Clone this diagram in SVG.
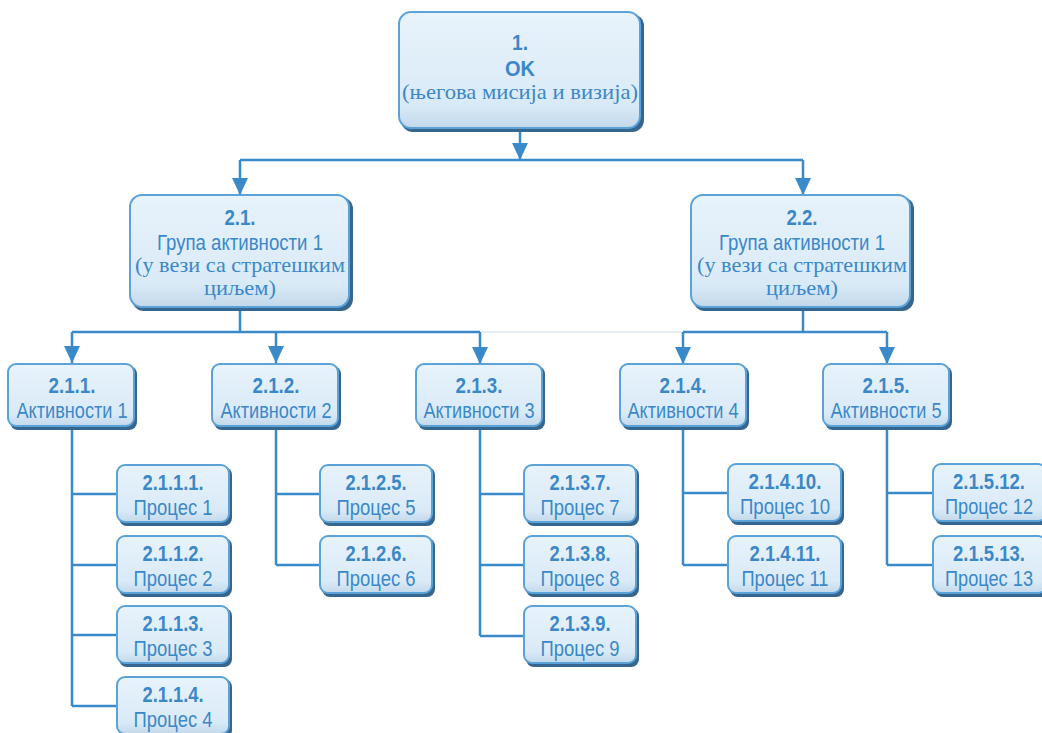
<svg xmlns="http://www.w3.org/2000/svg" width="1042" height="733" viewBox="0 0 1042 733">
<defs>
<linearGradient id="g" x1="0" y1="0" x2="0" y2="1">
<stop offset="0" stop-color="#e8f3fb"/>
<stop offset="0.8" stop-color="#d9eaf7"/>
<stop offset="1" stop-color="#c2d8ea"/>
</linearGradient>
<marker id="ar" markerUnits="userSpaceOnUse" markerWidth="17" markerHeight="16" refX="17" refY="8" orient="auto">
<path d="M0,0 L17,8 L0,16 z" fill="#3a8ac9"/>
</marker>
</defs>
<style>
.sh{fill:#35668f}
.bx{fill:url(#g);stroke:#5ba2d8;stroke-width:2}
text{fill:#3b88c9;text-anchor:middle}
.b{font-family:"Liberation Sans",Arial,sans-serif;font-weight:bold;font-size:22px}
.n{font-family:"Liberation Sans",Arial,sans-serif;font-size:22px}
.s{font-family:"Liberation Serif","DejaVu Serif",serif;font-size:21px}
.c{fill:none;stroke:#3a8ac9;stroke-width:2.5}
.f{fill:none;stroke:#e4edf5;stroke-width:2}
</style>
<rect width="1042" height="733" fill="#ffffff"/>
<g id="connectors">
<path class="c" d="M520,131 V160" marker-end="url(#ar)"/>
<path class="c" d="M240,160 H803"/>
<path class="c" d="M240,160 V195" marker-end="url(#ar)"/>
<path class="c" d="M803,160 V195" marker-end="url(#ar)"/>
<path class="c" d="M240,310 V332 M72,332 H480"/>
<path class="f" d="M481,332 H682"/>
<path class="c" d="M72,332 V363" marker-end="url(#ar)"/>
<path class="c" d="M276,332 V363" marker-end="url(#ar)"/>
<path class="c" d="M480,332 V364" marker-end="url(#ar)"/>
<path class="c" d="M803,310 V332 M683,332 H887"/>
<path class="c" d="M683,332 V364" marker-end="url(#ar)"/>
<path class="c" d="M887,332 V364" marker-end="url(#ar)"/>
<path class="c" d="M72,428 V706 M72,494 H117 M72,565 H117 M72,635 H117 M72,706 H117"/>
<path class="c" d="M276,428 V565 M276,494 H320 M276,565 H320"/>
<path class="c" d="M480,430 V636 M480,494 H524 M480,565 H524 M480,636 H524"/>
<path class="c" d="M683,430 V565 M683,493 H728 M683,565 H728"/>
<path class="c" d="M887,430 V565 M887,493 H933 M887,565 H933"/>
</g>
<g id="n1">
<rect class="sh" x="401" y="14" width="243" height="118" rx="12"/>
<rect class="bx" x="399" y="12" width="241" height="116" rx="12"/>
<text class="b" x="520" y="50" textLength="16" lengthAdjust="spacingAndGlyphs">1.</text>
<text class="b" x="520" y="76" font-size="25" textLength="30" lengthAdjust="spacingAndGlyphs">OK</text>
<text class="s" x="520" y="99" textLength="236" lengthAdjust="spacingAndGlyphs">(његова мисија и визија)</text>
</g>
<g id="n21">
<rect class="sh" x="132" y="197" width="221" height="114" rx="12"/>
<rect class="bx" x="130" y="195" width="219" height="112" rx="12"/>
<text class="b" x="240" y="225" textLength="31" lengthAdjust="spacingAndGlyphs">2.1.</text>
<text class="n" x="240" y="250" textLength="166" lengthAdjust="spacingAndGlyphs">Група активности 1</text>
<text class="s" x="240" y="272" textLength="210" lengthAdjust="spacingAndGlyphs">(у вези са стратешким</text>
<text class="s" x="240" y="295" textLength="72" lengthAdjust="spacingAndGlyphs">циљем)</text>
</g>
<g id="n22">
<rect class="sh" x="693" y="197" width="221" height="114" rx="12"/>
<rect class="bx" x="691" y="195" width="219" height="112" rx="12"/>
<text class="b" x="802" y="225" textLength="31" lengthAdjust="spacingAndGlyphs">2.2.</text>
<text class="n" x="802" y="250" textLength="166" lengthAdjust="spacingAndGlyphs">Група активности 1</text>
<text class="s" x="802" y="272" textLength="210" lengthAdjust="spacingAndGlyphs">(у вези са стратешким</text>
<text class="s" x="802" y="295" textLength="72" lengthAdjust="spacingAndGlyphs">циљем)</text>
</g>
<g id="n211">
<rect class="sh" x="10" y="366" width="127" height="64" rx="8"/>
<rect class="bx" x="8" y="364" width="126" height="62" rx="8"/>
<text class="b" x="72" y="393" textLength="47" lengthAdjust="spacingAndGlyphs">2.1.1.</text>
<text class="n" x="72" y="418" textLength="111" lengthAdjust="spacingAndGlyphs">Активности 1</text>
</g>
<g id="n212">
<rect class="sh" x="214" y="366" width="127" height="64" rx="8"/>
<rect class="bx" x="212" y="364" width="126" height="62" rx="8"/>
<text class="b" x="276" y="393" textLength="47" lengthAdjust="spacingAndGlyphs">2.1.2.</text>
<text class="n" x="276" y="418" textLength="111" lengthAdjust="spacingAndGlyphs">Активности 2</text>
</g>
<g id="n213">
<rect class="sh" x="418" y="366" width="127" height="64" rx="8"/>
<rect class="bx" x="416" y="364" width="126" height="62" rx="8"/>
<text class="b" x="479" y="393" textLength="47" lengthAdjust="spacingAndGlyphs">2.1.3.</text>
<text class="n" x="479" y="418" textLength="111" lengthAdjust="spacingAndGlyphs">Активности 3</text>
</g>
<g id="n214">
<rect class="sh" x="622" y="366" width="127" height="64" rx="8"/>
<rect class="bx" x="620" y="364" width="126" height="62" rx="8"/>
<text class="b" x="683" y="393" textLength="47" lengthAdjust="spacingAndGlyphs">2.1.4.</text>
<text class="n" x="683" y="418" textLength="111" lengthAdjust="spacingAndGlyphs">Активности 4</text>
</g>
<g id="n215">
<rect class="sh" x="825" y="366" width="127" height="64" rx="8"/>
<rect class="bx" x="823" y="364" width="126" height="62" rx="8"/>
<text class="b" x="886" y="393" textLength="47" lengthAdjust="spacingAndGlyphs">2.1.5.</text>
<text class="n" x="886" y="418" textLength="111" lengthAdjust="spacingAndGlyphs">Активности 5</text>
</g>
<g id="p1">
<rect class="sh" x="119" y="467" width="113" height="59" rx="8"/>
<rect class="bx" x="117" y="465" width="112" height="57" rx="8"/>
<text class="b" x="173" y="490" textLength="61" lengthAdjust="spacingAndGlyphs">2.1.1.1.</text>
<text class="n" x="173" y="515" textLength="79" lengthAdjust="spacingAndGlyphs">Процес 1</text>
</g>
<g id="p2">
<rect class="sh" x="119" y="538" width="113" height="59" rx="8"/>
<rect class="bx" x="117" y="536" width="112" height="57" rx="8"/>
<text class="b" x="173" y="561" textLength="61" lengthAdjust="spacingAndGlyphs">2.1.1.2.</text>
<text class="n" x="173" y="586" textLength="79" lengthAdjust="spacingAndGlyphs">Процес 2</text>
</g>
<g id="p3">
<rect class="sh" x="119" y="608" width="113" height="59" rx="8"/>
<rect class="bx" x="117" y="606" width="112" height="57" rx="8"/>
<text class="b" x="173" y="631" textLength="61" lengthAdjust="spacingAndGlyphs">2.1.1.3.</text>
<text class="n" x="173" y="656" textLength="79" lengthAdjust="spacingAndGlyphs">Процес 3</text>
</g>
<g id="p4">
<rect class="sh" x="119" y="679" width="113" height="59" rx="8"/>
<rect class="bx" x="117" y="677" width="112" height="57" rx="8"/>
<text class="b" x="173" y="702" textLength="61" lengthAdjust="spacingAndGlyphs">2.1.1.4.</text>
<text class="n" x="173" y="727" textLength="79" lengthAdjust="spacingAndGlyphs">Процес 4</text>
</g>
<g id="p5">
<rect class="sh" x="322" y="467" width="113" height="59" rx="8"/>
<rect class="bx" x="320" y="465" width="112" height="57" rx="8"/>
<text class="b" x="376" y="490" textLength="61" lengthAdjust="spacingAndGlyphs">2.1.2.5.</text>
<text class="n" x="376" y="515" textLength="79" lengthAdjust="spacingAndGlyphs">Процес 5</text>
</g>
<g id="p6">
<rect class="sh" x="322" y="538" width="113" height="59" rx="8"/>
<rect class="bx" x="320" y="536" width="112" height="57" rx="8"/>
<text class="b" x="376" y="561" textLength="61" lengthAdjust="spacingAndGlyphs">2.1.2.6.</text>
<text class="n" x="376" y="586" textLength="79" lengthAdjust="spacingAndGlyphs">Процес 6</text>
</g>
<g id="p7">
<rect class="sh" x="526" y="467" width="113" height="59" rx="8"/>
<rect class="bx" x="524" y="465" width="112" height="57" rx="8"/>
<text class="b" x="580" y="490" textLength="61" lengthAdjust="spacingAndGlyphs">2.1.3.7.</text>
<text class="n" x="580" y="515" textLength="79" lengthAdjust="spacingAndGlyphs">Процес 7</text>
</g>
<g id="p8">
<rect class="sh" x="526" y="538" width="113" height="59" rx="8"/>
<rect class="bx" x="524" y="536" width="112" height="57" rx="8"/>
<text class="b" x="580" y="561" textLength="61" lengthAdjust="spacingAndGlyphs">2.1.3.8.</text>
<text class="n" x="580" y="586" textLength="79" lengthAdjust="spacingAndGlyphs">Процес 8</text>
</g>
<g id="p9">
<rect class="sh" x="526" y="608" width="113" height="59" rx="8"/>
<rect class="bx" x="524" y="606" width="112" height="57" rx="8"/>
<text class="b" x="580" y="631" textLength="61" lengthAdjust="spacingAndGlyphs">2.1.3.9.</text>
<text class="n" x="580" y="656" textLength="79" lengthAdjust="spacingAndGlyphs">Процес 9</text>
</g>
<g id="p10">
<rect class="sh" x="730" y="466" width="114" height="59" rx="8"/>
<rect class="bx" x="728" y="464" width="113" height="57" rx="8"/>
<text class="b" x="785" y="489" textLength="73" lengthAdjust="spacingAndGlyphs">2.1.4.10.</text>
<text class="n" x="785" y="514" textLength="90" lengthAdjust="spacingAndGlyphs">Процес 10</text>
</g>
<g id="p11">
<rect class="sh" x="730" y="538" width="114" height="59" rx="8"/>
<rect class="bx" x="728" y="536" width="113" height="57" rx="8"/>
<text class="b" x="785" y="561" textLength="71" lengthAdjust="spacingAndGlyphs">2.1.4.11.</text>
<text class="n" x="785" y="586" textLength="87" lengthAdjust="spacingAndGlyphs">Процес 11</text>
</g>
<g id="p12">
<rect class="sh" x="935" y="466" width="114" height="59" rx="8"/>
<rect class="bx" x="933" y="464" width="113" height="57" rx="8"/>
<text class="b" x="989" y="489" textLength="72" lengthAdjust="spacingAndGlyphs">2.1.5.12.</text>
<text class="n" x="989" y="514" textLength="88" lengthAdjust="spacingAndGlyphs">Процес 12</text>
</g>
<g id="p13">
<rect class="sh" x="935" y="538" width="114" height="59" rx="8"/>
<rect class="bx" x="933" y="536" width="113" height="57" rx="8"/>
<text class="b" x="989" y="561" textLength="72" lengthAdjust="spacingAndGlyphs">2.1.5.13.</text>
<text class="n" x="989" y="586" textLength="88" lengthAdjust="spacingAndGlyphs">Процес 13</text>
</g>
</svg>
